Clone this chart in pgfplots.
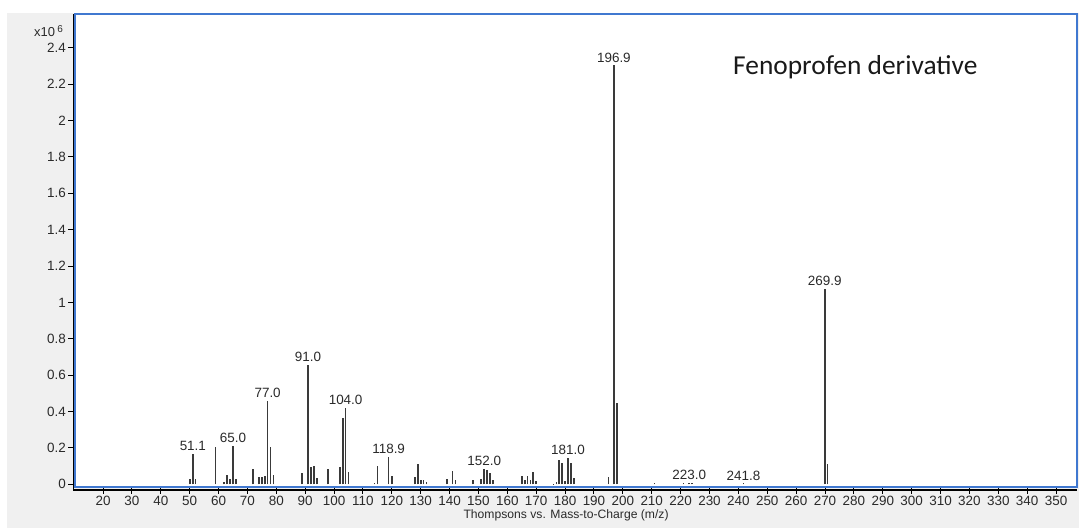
\documentclass[border=0pt]{standalone}
\usepackage{fontspec}
\setmainfont{Liberation Sans}
\newfontfamily\carlito{Carlito}
\usepackage{pgfplots}
\pgfplotsset{compat=1.18}
\definecolor{bgray}{HTML}{F0F0F0}
\definecolor{frameblue}{RGB}{64,120,208}
\definecolor{barc}{HTML}{3A3A3A}
\definecolor{txt}{HTML}{2A2A2A}
\pgfplotstableread{
mz inten
50 0.03
51.1 0.165
52 0.03
58.9 0.207
62 0.015
63 0.05
64 0.027
65 0.213
66 0.027
72 0.086
74 0.042
75 0.038
76 0.046
77 0.46
78 0.207
79 0.053
89 0.064
91 0.654
92 0.095
93 0.103
94 0.037
98 0.084
102 0.095
103 0.367
104 0.418
105 0.07
114 0.007
115 0.103
118.9 0.15
120 0.044
128 0.04
129 0.11
130 0.026
131 0.022
132 0.011
139 0.029
141 0.073
142 0.026
148 0.022
151 0.029
152 0.084
153 0.077
154 0.062
155 0.026
165 0.044
166 0.022
167 0.048
168 0.026
169 0.066
170 0.018
176 0.004
177 0.015
178 0.132
179 0.117
180 0.018
181 0.143
182 0.117
183 0.033
195 0.04
196.9 2.303
197.9 0.445
211 0.005
221 0.005
223 0.008
224 0.006
241.8 0.005
269.9 1.072
270.9 0.112
}\peaks
\pgfplotstableread{
mz inten lab
51.1 0.165 51.1
65 0.213 65.0
77 0.46 77.0
91 0.654 91.0
104 0.418 104.0
118.9 0.15 118.9
152 0.084 152.0
181 0.143 181.0
196.9 2.303 196.9
223 0.008 223.0
241.8 0.005 241.8
269.9 1.072 269.9
}\labels
\begin{document}
\begin{tikzpicture}[x=1bp,y=1bp]
\path[fill=white] (0,0) rectangle (1079,528);
\fill[bgray] (7,0) rectangle (1079,515);
\begin{axis}[
  at={(75.3bp,41bp)}, anchor=south west, scale only axis,
  width=1001.5bp, height=472.7bp,
  xmin=10.4, xmax=357.2, ymin=-0.015, ymax=2.584,
  clip=false,
  axis background/.style={fill=white},
  axis line style={draw=frameblue, line width=2bp},
  xtick={20,30,...,350},
  ytick={0,0.2,0.4,0.6,0.8,1,1.2,1.4,1.6,1.8,2,2.2,2.4},
  yticklabels={0,0.2,0.4,0.6,0.8,1,1.2,1.4,1.6,1.8,2,2.2,2.4},
  tick align=outside, xtick pos=bottom, ytick pos=left,
  major tick length=7bp,
  tick style={black, line width=1bp},
  /pgf/number format/assume math mode=true,
  ticklabel style={font=\fontsize{13.5}{15}\selectfont, text=txt},
  yticklabel style={xshift=1bp},
  xticklabel style={yshift=1bp},
  xlabel={Thompsons vs. Mass-to-Charge (m/z)},
  xlabel style={font=\fontsize{12.2}{14}\selectfont, text=txt, at={(axis description cs:0.49,0)}, anchor=north, yshift=-19bp},
]
\addplot[ycomb, barc, line width=1.7bp, no markers] table[x=mz, y=inten] {\peaks};
\addplot[draw=none, no markers, nodes near coords, point meta=explicit symbolic,
  nodes near coords style={font=\fontsize{13.5}{15}\selectfont, text=txt, anchor=south, inner sep=1bp, yshift=2bp}]
  table[x=mz, y=inten, meta=lab] {\labels};
\draw[black, line width=1.2bp] ([xshift=-2.2bp]rel axis cs:0,1) -- ([xshift=-2.2bp, yshift=-3bp]rel axis cs:0,0) -- ([yshift=-3bp]rel axis cs:1,0);
\end{axis}
\node[anchor=base west, font=\carlito\fontsize{27.5}{32}\selectfont, text=black!90, inner sep=0] at (733,453) {Fenoprofen derivative};
\node[anchor=base east, font=\fontsize{13}{15}\selectfont, text=txt, inner sep=0] at (63,491) {x10\,\raisebox{4bp}{\fontsize{10}{12}\selectfont 6}};
\pgfresetboundingbox
\path (0,0) rectangle (1079,528);
\end{tikzpicture}
\end{document}
